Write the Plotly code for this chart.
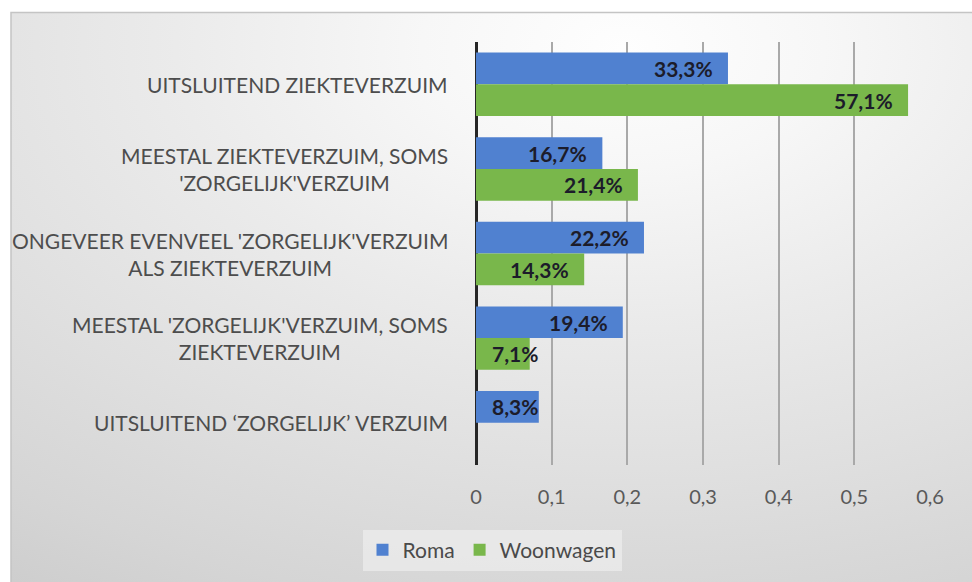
import base64
import plotly.graph_objects as go

categories = [
    "UITSLUITEND ZIEKTEVERZUIM",
    "MEESTAL ZIEKTEVERZUIM, SOMS<br>'ZORGELIJK'VERZUIM",
    "ONGEVEER EVENVEEL 'ZORGELIJK'VERZUIM<br>ALS ZIEKTEVERZUIM",
    "MEESTAL 'ZORGELIJK'VERZUIM, SOMS<br>ZIEKTEVERZUIM",
    "UITSLUITEND \u2018ZORGELIJK\u2019 VERZUIM",
]
roma = [0.333, 0.167, 0.222, 0.194, 0.083]
woonwagen = [0.571, 0.214, 0.143, 0.071, None]
series_names = ["Roma", "Woonwagen"]
x_ticks = [0, 0.1, 0.2, 0.3, 0.4, 0.5, 0.6]
x_tick_labels = ["0", "0,1", "0,2", "0,3", "0,4", "0,5", "0,6"]

W, H = 972, 582
ML, MR, MT, MB = 476, 42, 42, 117
PW, PH = W - ML - MR, H - MT - MB
BARGAP = 0.25
FONT = "Lato"

colors = ["#5081d0", "#79b74b"]

fig = go.Figure()
idx = list(range(len(categories)))
for name, vals, col in zip(series_names, [roma, woonwagen], colors):
    fig.add_trace(go.Bar(
        y=idx, x=vals, name=name, orientation="h",
        marker=dict(color=col, line=dict(width=0)),
        hoverinfo="x+name",
    ))

# background gradient (style only)
svg = f'''<svg xmlns="http://www.w3.org/2000/svg" width="{W}" height="{H}" viewBox="0 0 {W} {H}">
<defs><radialGradient id="g" cx="0.63" cy="0.06" r="1.15">
<stop offset="0" stop-color="#fefefe"/>
<stop offset="0.18" stop-color="#f7f7f7"/>
<stop offset="0.4" stop-color="#ebebeb"/>
<stop offset="0.65" stop-color="#dfdfdf"/>
<stop offset="0.85" stop-color="#d5d5d5"/>
<stop offset="1" stop-color="#cccccc"/>
</radialGradient></defs>
<rect x="0" y="0" width="{W}" height="{H}" fill="#ffffff"/>
<rect x="11" y="12.5" width="{W}" height="{H}" fill="url(#g)" stroke="#c4c4c4" stroke-width="1.5"/>
</svg>'''
src = "data:image/svg+xml;base64," + base64.b64encode(svg.encode()).decode()
fig.add_layout_image(dict(
    source=src, xref="paper", yref="paper",
    x=-ML / PW, y=1 + MT / PH, sizex=W / PW, sizey=H / PH,
    xanchor="left", yanchor="top", sizing="stretch", layer="below",
))

# category labels (right-aligned block, centred lines)
for i, lab in enumerate(categories):
    fig.add_annotation(
        x=0, xref="paper", y=i, yref="y", text=lab, showarrow=False,
        xanchor="right", yanchor="middle", align="center", xshift=-26,
        font=dict(family=FONT, size=21, color="#4d4d4d"),
    )

# data labels
half = (1 - BARGAP) / 4
for k, vals in enumerate([roma, woonwagen]):
    off = -half if k == 0 else half
    for i, v in enumerate(vals):
        if v is None:
            continue
        txt = f"{v*100:.1f}%".replace(".", ",")
        if v < 0.1:
            fig.add_annotation(x=0, y=i + off, text=f"<b>{txt}</b>", showarrow=False,
                               xanchor="left", yanchor="middle", xshift=14,
                               font=dict(family=FONT, size=21, color="#1c1c2a"))
        else:
            fig.add_annotation(x=v, y=i + off, text=f"<b>{txt}</b>", showarrow=False,
                               xanchor="right", yanchor="middle", xshift=-13,
                               font=dict(family=FONT, size=21, color="#1c1c2a"))

fig.update_layout(
    width=W, height=H,
    margin=dict(l=ML, r=MR, t=MT, b=MB),
    paper_bgcolor="rgba(0,0,0,0)", plot_bgcolor="rgba(0,0,0,0)",
    barmode="group", bargap=BARGAP, bargroupgap=0.0,
    font=dict(family=FONT, color="#595959"),
    showlegend=True,
    legend=dict(
        orientation="h", x=(492 - ML) / PW, xanchor="center",
        y=-(550 - (H - MB)) / PH, yanchor="middle",
        bgcolor="rgba(238,238,238,0.7)", borderwidth=0,
        font=dict(family=FONT, size=21, color="#4a4a4a"),
        itemsizing="constant", traceorder="normal",
    ),
    xaxis=dict(
        range=[0, 0.6], tickvals=x_ticks, ticktext=x_tick_labels,
        showgrid=True, gridcolor="#a9a9a9", gridwidth=1.5,
        zeroline=True, zerolinecolor="#262626", zerolinewidth=2.5,
        showline=False, ticks="", ticklabelstandoff=18,
        tickfont=dict(family=FONT, size=20, color="#595959"),
        fixedrange=True,
    ),
    yaxis=dict(
        range=[len(categories) - 0.5, -0.5], showticklabels=False,
        showgrid=False, zeroline=False, ticks="", fixedrange=True,
    ),
)

fig.write_html("out.html", config={"displayModeBar": False},
               post_script="document.body.style.margin='0';")
